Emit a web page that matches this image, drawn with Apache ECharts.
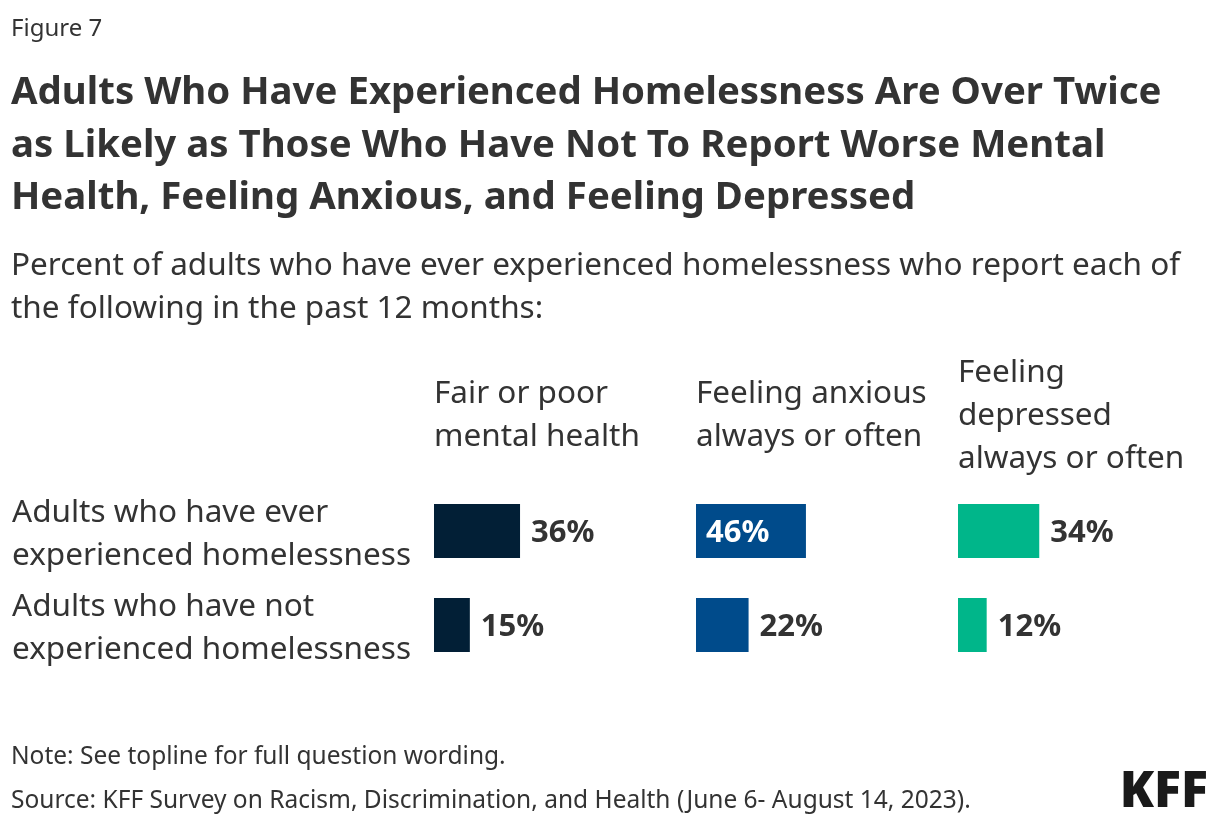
<!DOCTYPE html>
<html>
<head>
<meta charset="utf-8">
<script src="https://cdn.jsdelivr.net/npm/echarts@6/dist/echarts.min.js"></script>
<style>
  html, body { margin: 0; padding: 0; background: #fff; }
  #chart { width: 1220px; height: 828px; }
</style>
</head>
<body>
<div id="chart"></div>
<script>
const figureLabel = 'Figure 7';
const titleText = 'Adults Who Have Experienced Homelessness Are Over Twice\nas Likely as Those Who Have Not To Report Worse Mental\nHealth, Feeling Anxious, and Feeling Depressed';
const subtitleText = 'Percent of adults who have ever experienced homelessness who report each of\nthe following in the past 12 months:';
const groups = ['Adults who have ever\nexperienced homelessness', 'Adults who have not\nexperienced homelessness'];
const measures = ['Fair or poor\nmental health', 'Feeling anxious\nalways or often', 'Feeling\ndepressed\nalways or often'];
const fairPoorMental = [36, 15];
const anxious = [46, 22];
const depressed = [34, 12];
const noteText = 'Note: See topline for full question wording.';
const sourceText = 'Source: KFF Survey on Racism, Discrimination, and Health (June 6- August 14, 2023).';

const FONT = '"Noto Sans", Lato, sans-serif';
const TEXT = '#333333';
const colors = ['#021f36', '#004b8b', '#00b68a'];
const seriesValues = [fairPoorMental, anxious, depressed];
const insideValues = [[], [46], []]; // labels drawn inside bar in white

const panelLefts = [434, 696, 958];
const panelWidth = 239;
const gridTop = 484, gridHeight = 188;

const chart = echarts.init(document.getElementById('chart'), null, { renderer: 'canvas' });

const grids = [], xAxes = [], yAxes = [], series = [];
seriesValues.forEach((vals, i) => {
  grids.push({ left: panelLefts[i], top: gridTop, width: panelWidth, height: gridHeight, containLabel: false });
  xAxes.push({ gridIndex: i, type: 'value', min: 0, max: 100, show: false });
  yAxes.push({
    gridIndex: i, type: 'category', data: groups, inverse: true,
    axisLine: { show: false }, axisTick: { show: false }, axisLabel: { show: false }
  });
  series.push({
    type: 'bar', xAxisIndex: i, yAxisIndex: i, barWidth: 54,
    itemStyle: { color: colors[i] },
    label: {
      show: true, position: 'right', distance: 11, formatter: '{c}%', offset: [0, 2],
      fontFamily: FONT, fontWeight: 'bold', fontSize: 31, color: TEXT
    },
    data: vals.map(v => insideValues[i].includes(v)
      ? { value: v, label: { position: 'insideLeft', distance: 10, color: '#ffffff' } }
      : v),
    animation: false
  });
});
// row-label axis (same categories, nudged slightly lower to match text baseline)
grids.push({ left: panelLefts[0], top: gridTop + 4, width: panelWidth, height: gridHeight, containLabel: false });
xAxes.push({ gridIndex: 3, type: 'value', min: 0, max: 100, show: false });
yAxes.push({
  gridIndex: 3, type: 'category', data: groups, inverse: true,
  axisLine: { show: false }, axisTick: { show: false }, splitLine: { show: false },
  axisLabel: {
    show: true, interval: 0, hideOverlap: false, align: 'left', margin: 422,
    fontFamily: FONT, fontSize: 31.5, color: TEXT, lineHeight: 43
  }
});

const graphics = [
  { type: 'text', left: 11, top: 17, style: { text: figureLabel, font: '24px ' + FONT, fill: TEXT } },
  { type: 'text', left: 11, top: 67, style: { text: titleText, font: 'bold 38.4px ' + FONT, fill: TEXT, lineHeight: 52.5 } },
  { type: 'text', left: 11, top: 245, style: { text: subtitleText, font: '31.5px ' + FONT, fill: TEXT, lineHeight: 43 } },
  { type: 'text', left: 11, top: 745, style: { text: noteText, font: '24.5px ' + FONT, fill: TEXT } },
  { type: 'text', left: 11, top: 789, style: { text: sourceText, font: '24.5px ' + FONT, fill: TEXT } },
  { type: 'text', right: 12, top: 768, style: { text: 'KFF', font: '900 50px ' + FONT, fill: '#1a1a1a' } }
];
measures.forEach((m, i) => {
  graphics.push({
    type: 'text', x: panelLefts[i], y: 416,
    style: { text: m, font: '31.5px ' + FONT, fill: TEXT, lineHeight: 43, verticalAlign: 'middle' }
  });
});

chart.setOption({
  backgroundColor: '#ffffff',
  animation: false,
  grid: grids,
  xAxis: xAxes,
  yAxis: yAxes,
  series: series,
  graphic: graphics
});
</script>
</body>
</html>
